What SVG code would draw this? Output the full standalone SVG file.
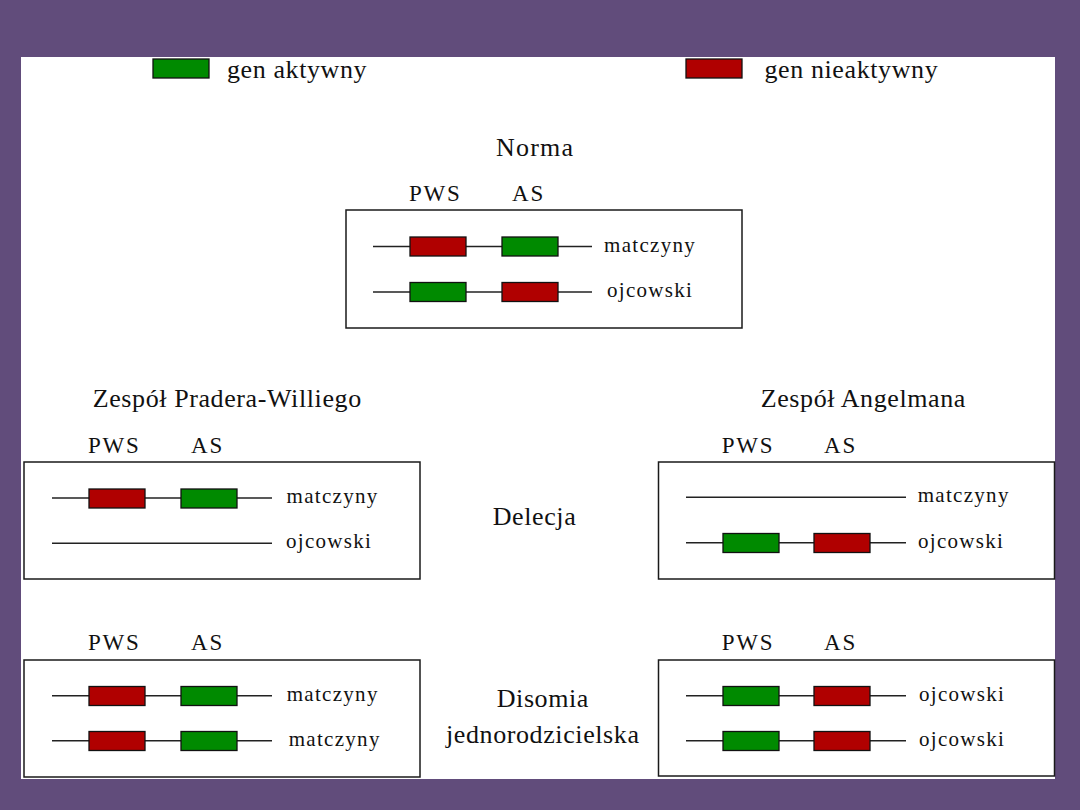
<svg xmlns="http://www.w3.org/2000/svg" width="1080" height="810" viewBox="0 0 1080 810">
<style>
.bg{fill:#614c7b}
.panel{fill:#ffffff}
.box{fill:#ffffff;stroke:#1a1a1a;stroke-width:1.5}
.chr{stroke:#222222;stroke-width:1.5;fill:none}
.on{fill:#008a00;stroke:#111111;stroke-width:1.3}
.off{fill:#b00000;stroke:#111111;stroke-width:1.3}
.big{font-family:"Liberation Serif","Times New Roman",serif;font-size:26px;fill:#111111;letter-spacing:0.6px}
.lab{font-family:"Liberation Serif","Times New Roman",serif;font-size:21px;fill:#111111;letter-spacing:1.3px}
.hdr{font-family:"Liberation Serif","Times New Roman",serif;font-size:23px;fill:#111111;letter-spacing:1.8px}
</style>
<rect class="bg" x="0" y="0" width="1080" height="810"/>
<rect class="panel" x="21" y="57" width="1034" height="722"/>

<g id="legend">
<rect class="on" x="153" y="59" width="56" height="19"/>
<text class="big" x="227" y="78">gen aktywny</text>
<rect class="off" x="686" y="59" width="56" height="19"/>
<text class="big" x="764.5" y="78">gen nieaktywny</text>
</g>

<g id="norma">
<text class="big" x="496" y="156" style="letter-spacing:1.2px">Norma</text>
<text class="hdr" x="409" y="201">PWS</text>
<text class="hdr" x="512" y="201">AS</text>
<rect class="box" x="346" y="210" width="396" height="118"/>
<line class="chr" x1="373" y1="246.5" x2="592" y2="246.5"/>
<rect class="off" x="410" y="237" width="56" height="19"/>
<rect class="on" x="502" y="237" width="56" height="19"/>
<text class="lab" x="604" y="251.5">matczyny</text>
<line class="chr" x1="373" y1="292" x2="592" y2="292"/>
<rect class="on" x="410" y="282.5" width="56" height="19"/>
<rect class="off" x="502" y="282.5" width="56" height="19"/>
<text class="lab" x="607" y="297">ojcowski</text>
</g>

<g id="pws-title">
<text class="big" x="92.7" y="406.7">Zespół Pradera-Williego</text>
</g>
<g id="as-title">
<text class="big" x="760.7" y="406.7">Zespół Angelmana</text>
</g>

<g id="pws-delecja">
<text class="hdr" x="88" y="452.7">PWS</text>
<text class="hdr" x="191" y="452.7">AS</text>
<rect class="box" x="24" y="462" width="396" height="117"/>
<line class="chr" x1="52" y1="498" x2="272" y2="498"/>
<rect class="off" x="89" y="489" width="56" height="19"/>
<rect class="on" x="181" y="489" width="56" height="19"/>
<text class="lab" x="286.5" y="503">matczyny</text>
<line class="chr" x1="52" y1="543.3" x2="272" y2="543.3"/>
<text class="lab" x="286" y="548.3">ojcowski</text>
</g>

<g id="delecja-label">
<text class="big" x="492.7" y="525">Delecja</text>
</g>

<g id="as-delecja">
<text class="hdr" x="721.7" y="452.7">PWS</text>
<text class="hdr" x="824" y="452.7">AS</text>
<rect class="box" x="658.5" y="462" width="396" height="117"/>
<line class="chr" x1="686" y1="497.3" x2="906" y2="497.3"/>
<text class="lab" x="917.7" y="502.3">matczyny</text>
<line class="chr" x1="686" y1="542.7" x2="906" y2="542.7"/>
<rect class="on" x="723" y="533.5" width="56" height="19"/>
<rect class="off" x="814" y="533.5" width="56" height="19"/>
<text class="lab" x="918" y="547.7">ojcowski</text>
</g>

<g id="pws-disomia">
<text class="hdr" x="88" y="650">PWS</text>
<text class="hdr" x="191" y="650">AS</text>
<rect class="box" x="24" y="660" width="396" height="117"/>
<line class="chr" x1="52" y1="695.7" x2="272" y2="695.7"/>
<rect class="off" x="89" y="686.5" width="56" height="19"/>
<rect class="on" x="181" y="686.5" width="56" height="19"/>
<text class="lab" x="286.7" y="700.7">matczyny</text>
<line class="chr" x1="52" y1="740.7" x2="272" y2="740.7"/>
<rect class="off" x="89" y="731.5" width="56" height="19"/>
<rect class="on" x="181" y="731.5" width="56" height="19"/>
<text class="lab" x="288.7" y="745.7">matczyny</text>
</g>

<g id="disomia-label">
<text class="big" x="496.7" y="706.7">Disomia</text>
<text class="big" x="446" y="743.3">jednorodzicielska</text>
</g>

<g id="as-disomia">
<text class="hdr" x="721.7" y="650">PWS</text>
<text class="hdr" x="824" y="650">AS</text>
<rect class="box" x="658.5" y="660" width="396" height="116"/>
<line class="chr" x1="686" y1="695.7" x2="906" y2="695.7"/>
<rect class="on" x="723" y="686.5" width="56" height="19"/>
<rect class="off" x="814" y="686.5" width="56" height="19"/>
<text class="lab" x="919" y="700.7">ojcowski</text>
<line class="chr" x1="686" y1="740.7" x2="906" y2="740.7"/>
<rect class="on" x="723" y="731.5" width="56" height="19"/>
<rect class="off" x="814" y="731.5" width="56" height="19"/>
<text class="lab" x="919" y="745.7">ojcowski</text>
</g>

<g id="connectors"></g>
</svg>
